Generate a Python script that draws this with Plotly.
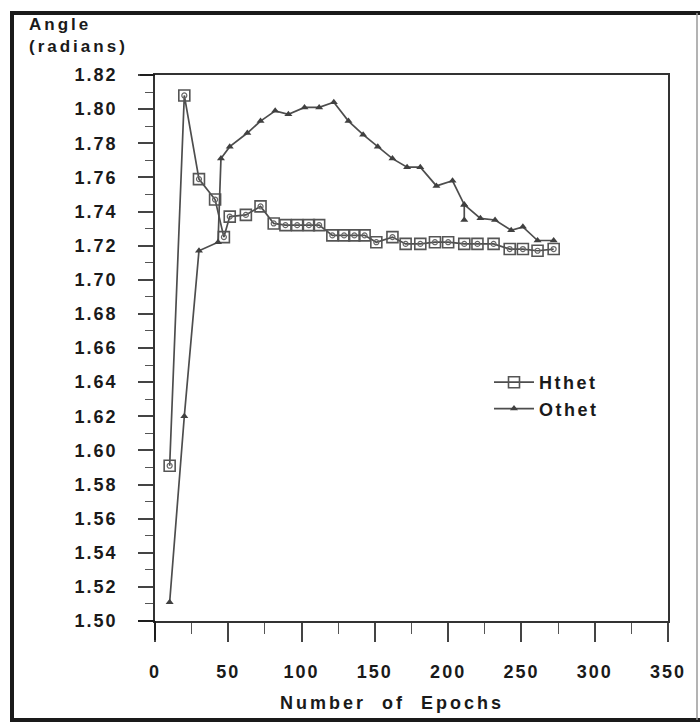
import plotly.graph_objects as go

# Training history: mean angle (radians) versus number of epochs
epochs_h = [10, 20, 30, 41, 47, 51, 62, 72, 81, 89, 97, 105, 112, 121, 129, 136,
            143, 151, 162, 171, 181, 191, 200, 211, 220, 231, 242, 251, 261, 272]
hthet = [1.591, 1.808, 1.759, 1.747, 1.725, 1.737, 1.738, 1.743, 1.733, 1.732,
         1.732, 1.732, 1.732, 1.726, 1.726, 1.726, 1.726, 1.722, 1.725, 1.721,
         1.721, 1.722, 1.722, 1.721, 1.721, 1.721, 1.718, 1.718, 1.717, 1.718]

epochs_o = [10, 20, 30, 43, 45, 51, 63, 72, 82, 91, 102, 112, 122, 132, 142, 152,
            162, 172, 181, 192, 203, 211, 211, 211, 222, 232, 243, 251, 261, 272]
othet = [1.511, 1.620, 1.717, 1.722, 1.771, 1.778, 1.786, 1.793, 1.799, 1.797,
         1.801, 1.801, 1.804, 1.793, 1.785, 1.778, 1.771, 1.766, 1.766, 1.755,
         1.758, 1.744, 1.735, 1.744, 1.736, 1.735, 1.729, 1.731, 1.723, 1.723]

x_ticks = [0, 50, 100, 150, 200, 250, 300, 350]
y_ticks = [round(1.50 + 0.02 * i, 2) for i in range(17)]

W, H = 700, 723
L, R, T, B = 155, 668, 75, 621
FONT = "Liberation Sans"
INK = "#1a1a1a"
LINE = "#4d4d4d"


def spaced(text, gap):
    """Wrap text in a span with extra letter spacing."""
    return f'<span style="letter-spacing:{gap}px">{text}</span>'


def px(x, y):
    """Convert page pixel coordinates into paper coordinates."""
    return (x - L) / (R - L), (B - y) / (B - T)


fig = go.Figure()

fig.add_trace(go.Scatter(
    x=epochs_h, y=hthet, name=spaced("Hthet", 2.5), mode="lines+markers",
    line=dict(color=LINE, width=1.7),
    marker=dict(symbol="square-open", size=11, color="#555555",
                line=dict(width=1.6)),
))
fig.add_trace(go.Scatter(
    x=epochs_h, y=hthet, mode="markers", showlegend=False, hoverinfo="skip",
    marker=dict(symbol="circle-open", size=5, color="#666666",
                line=dict(width=1.2)),
))
fig.add_trace(go.Scatter(
    x=epochs_o, y=othet, name=spaced("Othet", 2.5), mode="lines+markers",
    line=dict(color=LINE, width=1.7),
    marker=dict(symbol="triangle-up", size=7, color="#404040"),
))

shapes = []


def seg(x0, y0, x1, y1, color=INK, width=1.8):
    a0, b0 = px(x0, y0)
    a1, b1 = px(x1, y1)
    shapes.append(dict(type="line", xref="paper", yref="paper",
                       x0=a0, y0=b0, x1=a1, y1=b1,
                       line=dict(color=color, width=width)))


# axis extensions beyond the plot frame
seg(138, B, L, B)
seg(L, B, L, 640)
seg(140, T, L, T)
# outer page border
seg(10, 13, 700, 13, width=4)
seg(12, 11, 12, 721, width=4)
seg(10, 720, 700, 720, width=4)
seg(697, 13, 697, 720, color="#9a9a9a", width=1.5)

a, b = px(27, 13)
c, d = px(392, 703)
annotations = [
    dict(xref="paper", yref="paper", x=a, y=b, xanchor="left", yanchor="top",
         align="left", showarrow=False,
         text=spaced("Angle", 3) + "<br>" + spaced("(radians)", 3),
         font=dict(family=FONT, size=17, color=INK, weight="bold")),
    dict(xref="paper", yref="paper", x=c, y=d, xanchor="center", yanchor="middle",
         showarrow=False, text=spaced("Number\u00a0\u00a0of\u00a0\u00a0Epochs", 3),
         font=dict(family=FONT, size=18, color=INK, weight="bold")),
]

lx, ly = px(489, 364)

fig.update_layout(
    width=W, height=H,
    margin=dict(l=L, r=W - R, t=T, b=H - B, pad=0),
    paper_bgcolor="white", plot_bgcolor="white",
    showlegend=True,
    legend=dict(x=lx, y=ly, xanchor="left", yanchor="top",
                bgcolor="rgba(0,0,0,0)", borderwidth=0,
                font=dict(family=FONT, size=18, color=INK, weight="bold"),
                tracegroupgap=0, itemwidth=40),
    xaxis=dict(range=[0, 350], tickvals=x_ticks,
               ticktext=[spaced(str(v), 2) for v in x_ticks],
               showgrid=False, zeroline=False,
               showline=True, mirror=True, linecolor="#333333", linewidth=1.8,
               ticks="outside", ticklen=19, tickwidth=1.6, tickcolor="#444444",
               ticklabelstandoff=14,
               minor=dict(dtick=25, tick0=0, ticks="outside", ticklen=11,
                          tickwidth=1.4, tickcolor="#555555"),
               tickfont=dict(family=FONT, size=18, color=INK, weight="bold")),
    yaxis=dict(range=[1.50, 1.82], tickvals=y_ticks,
               ticktext=[spaced(f"{v:.2f}", 2) for v in y_ticks],
               showgrid=False, zeroline=False,
               showline=True, mirror=True, linecolor="#333333", linewidth=1.8,
               ticks="outside", ticklen=15, tickwidth=1.6, tickcolor="#444444",
               ticklabelstandoff=17,
               minor=dict(dtick=0.01, tick0=1.50, ticks="outside", ticklen=8,
                          tickwidth=1.2, tickcolor="#555555"),
               tickfont=dict(family=FONT, size=18, color=INK, weight="bold")),
    shapes=shapes,
    annotations=annotations,
)

fig.write_html("out.html")
